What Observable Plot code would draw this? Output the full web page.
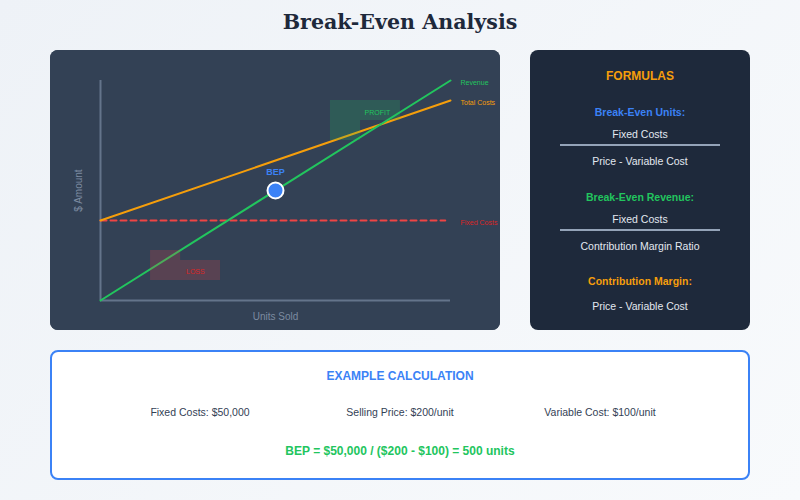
<!DOCTYPE html>
<html>
<head>
<meta charset="utf-8">
<script src="https://cdn.jsdelivr.net/npm/d3@7"></script>
<script src="https://cdn.jsdelivr.net/npm/@observablehq/plot@0.6"></script>
<style>
  body { margin: 0; background: #f1f5f9; font-family: "Liberation Sans", Arial, sans-serif; }
  #page { position: relative; width: 800px; height: 500px; overflow: hidden;
          background: linear-gradient(135deg, #eef2f7 0%, #f8fafc 100%); }
  .abs { position: absolute; }
  #title { left: 0; top: 10px; width: 800px; text-align: center; font-family: "DejaVu Serif", Georgia, serif;
           font-weight: bold; font-size: 20.6px; line-height: 24px; color: #1e293b; }
  #chart { left: 50px; top: 50px; width: 450px; height: 280px; border-radius: 8px; overflow: hidden; background: #334155; }
  #formulas { left: 530px; top: 50px; width: 220px; height: 280px; border-radius: 8px; background: #1e293b; }
  #formulas div { position: absolute; left: 0; width: 220px; text-align: center; font-size: 10.5px; color: #e2e8f0; line-height: 12px; }
  #formulas hr { position: absolute; left: 30px; width: 160px; margin: 0; border: 0; height: 2px; background: #94a3b8; }
  #example { left: 50px; top: 350px; width: 696px; height: 126px; border: 2px solid #3b82f6; border-radius: 8px; background: #ffffff; }
  #example div { position: absolute; text-align: center; line-height: 14px; }
</style>
</head>
<body>
<div id="page">
  <div id="title" class="abs">Break-Even Analysis</div>
  <div id="chart" class="abs"></div>
  <div id="formulas" class="abs"></div>
  <div id="example" class="abs"></div>
</div>
<script>
// ---- data ----
const units = [0, 1000];
const revenue = [0, 220];
const totalCosts = [80, 200];
const fixedCostUnits = [0, 985];
const fixedCosts = [80, 80];
const bepUnits = [500];
const bepAmount = [110];
const lineLabels = ["Revenue", "Total Costs", "Fixed Costs"];
const lineLabelUnits = [1000, 1000, 1000];
const lineLabelAmounts = [220, 200, 80];
const lineLabelColors = ["#22c55e", "#f59e0b", "#dc2626"];
const profitX1 = [657, 657], profitX2 = [857, 743], profitY1 = [180, 160], profitY2 = [200, 180];
const lossX1 = [143, 143], lossX2 = [343, 229], lossY1 = [20, 40], lossY2 = [40, 50];

const formulaTitle = "FORMULAS";
const formulaHeads = ["Break-Even Units:", "Break-Even Revenue:", "Contribution Margin:"];
const formulaHeadColors = ["#3b82f6", "#22c55e", "#f59e0b"];
const formulaNumerators = ["Fixed Costs", "Fixed Costs"];
const formulaDenominators = ["Price - Variable Cost", "Contribution Margin Ratio"];
const formulaPlain = "Price - Variable Cost";

const exampleTitle = "EXAMPLE CALCULATION";
const exampleItems = ["Fixed Costs: $50,000", "Selling Price: $200/unit", "Variable Cost: $100/unit"];
const exampleResult = "BEP = $50,000 / ($200 - $100) = 500 units";

// ---- chart ----
const mk = (xs, ys) => xs.map((x, i) => ({x, y: ys[i]}));
const rect = (x1, x2, y1, y2) => x1.map((_, i) => ({x1: x1[i], x2: x2[i], y1: y1[i], y2: y2[i]}));
const labels = lineLabels.map((t, i) => ({t, x: lineLabelUnits[i], y: lineLabelAmounts[i], c: lineLabelColors[i]}));

const plot = Plot.plot({
  width: 450, height: 280,
  marginLeft: 50, marginRight: 50, marginTop: 30, marginBottom: 30,
  x: {domain: [0, 1000], axis: null},
  y: {domain: [0, 220], axis: null},
  style: {background: "#334155", fontFamily: "Liberation Sans, Arial, sans-serif", overflow: "visible"},
  marks: [
    Plot.ruleX([0], {stroke: "#64748b", strokeWidth: 2, y1: 0, y2: 220}),
    Plot.ruleY([0], {stroke: "#64748b", strokeWidth: 2, x1: 0, x2: 1000}),
    Plot.line(mk(fixedCostUnits, fixedCosts), {x: "x", y: "y", stroke: "#ef4444", strokeWidth: 2, strokeDasharray: "6,4"}),
    Plot.line(mk(units, totalCosts), {x: "x", y: "y", stroke: "#f59e0b", strokeWidth: 2}),
    Plot.line(mk(units, revenue), {x: "x", y: "y", stroke: "#22c55e", strokeWidth: 2}),
    Plot.rect(rect(profitX1, profitX2, profitY1, profitY2), {x1: "x1", x2: "x2", y1: "y1", y2: "y2", fill: "#22c55e", fillOpacity: 0.2}),
    Plot.rect(rect(lossX1, lossX2, lossY1, lossY2), {x1: "x1", x2: "x2", y1: "y1", y2: "y2", fill: "#ef4444", fillOpacity: 0.2}),
    Plot.text(["PROFIT"], {x: 791, y: 190, fill: "#22c55e", fontSize: 7, dy: 2}),
    Plot.text(["LOSS"], {x: 271, y: 30, fill: "#dc2626", fontSize: 7, dy: 1}),
    Plot.dot(mk(bepUnits, bepAmount), {x: "x", y: "y", r: 8, fill: "#3b82f6", stroke: "#ffffff", strokeWidth: 2}),
    Plot.text(mk(bepUnits, bepAmount), {x: "x", y: "y", text: () => "BEP", dy: -18, fill: "#3b82f6", fontSize: 9, fontWeight: "bold"}),
    Plot.text(labels, {x: "x", y: "y", text: "t", fill: "c", textAnchor: "start", dx: 10, dy: 2, fontSize: 7}),
    Plot.text(["$ Amount"], {frameAnchor: "left", textAnchor: "middle", dx: -22, rotate: -90, fill: "#7c8ba1", fontSize: 10}),
    Plot.text(["Units Sold"], {frameAnchor: "bottom", dy: 19, fill: "#7c8ba1", fontSize: 10})
  ]
});
document.getElementById("chart").appendChild(plot);

// ---- formulas panel ----
const fp = document.getElementById("formulas");
function add(parent, text, top, style) {
  const d = document.createElement("div");
  d.textContent = text; d.style.top = top + "px";
  Object.assign(d.style, style || {});
  parent.appendChild(d); return d;
}
function hr(top) { const h = document.createElement("hr"); h.style.top = top + "px"; fp.appendChild(h); }
add(fp, formulaTitle, 20, {color: "#f59e0b", fontWeight: "bold", fontSize: "12px"});
add(fp, formulaHeads[0], 56, {color: formulaHeadColors[0], fontWeight: "bold"});
add(fp, formulaNumerators[0], 78);
hr(94);
add(fp, formulaDenominators[0], 105);
add(fp, formulaHeads[1], 141, {color: formulaHeadColors[1], fontWeight: "bold"});
add(fp, formulaNumerators[1], 163);
hr(179);
add(fp, formulaDenominators[1], 190);
add(fp, formulaHeads[2], 225, {color: formulaHeadColors[2], fontWeight: "bold"});
add(fp, formulaPlain, 250);

// ---- example ----
const ex = document.getElementById("example");
add(ex, exampleTitle, 17, {left: "0px", width: "696px", color: "#3b82f6", fontWeight: "bold", fontSize: "12px"});
const centers = [148, 348, 548];
exampleItems.forEach((t, i) => add(ex, t, 53, {left: (centers[i] - 100) + "px", width: "200px", color: "#334155", fontSize: "10.5px"}));
add(ex, exampleResult, 92, {left: "0px", width: "696px", color: "#22c55e", fontWeight: "bold", fontSize: "12px"});
</script>
</body>
</html>
